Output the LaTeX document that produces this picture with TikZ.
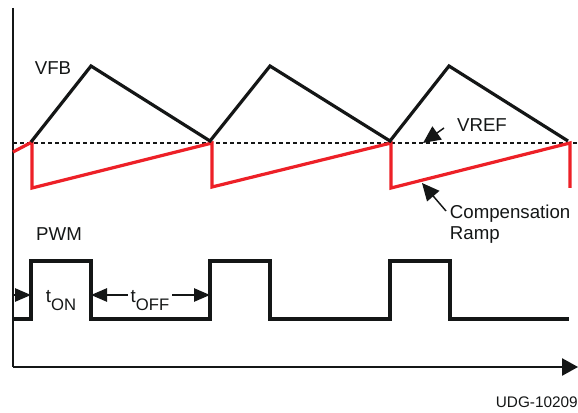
\documentclass[tikz,border=0pt]{standalone}
\usepackage{fontspec}
\setmainfont{Liberation Sans}
\usetikzlibrary{arrows.meta}

\definecolor{rampred}{RGB}{237,32,39}
\definecolor{inkblack}{RGB}{20,22,22}

\newcommand{\lowsub}[1]{\raisebox{-6pt}{\fontsize{12.5}{12.5}\selectfont #1}}

\tikzset{
  wave/.style={line width=2.4pt,inkblack,line join=miter},
  ramp/.style={line width=2.4pt,rampred},
  axis/.style={line width=1.1pt,inkblack},
  tip/.style={line width=1.1pt,inkblack,-{Triangle[length=12pt,width=10pt]}},
  callout/.style={line width=1.1pt,inkblack,-{Triangle[length=13pt,width=12pt]}},
  lbl/.style={font=\fontsize{14}{15.75}\selectfont,text=inkblack,inner sep=2pt},
}

\begin{document}
\begin{tikzpicture}[x=0.75pt,y=-0.75pt]
\useasboundingbox (0,0) rectangle (578,413);

% axes
\coordinate (org) at (13,367);
\draw[axis] (13,8) -- (org);
\draw[axis,-{Triangle[length=12pt,width=13pt]}] (org) -- (578,367);

% reference level
\draw[line width=1pt,inkblack,dash pattern=on 3pt off 2.25pt] (13,143) -- (578,143);

% compensation ramp
\draw[ramp] (13,152) -- (32,142) -- (32,188) -- (212,143) -- (212,187)
  -- (391,143) -- (391,188) -- (570,143) -- (570,188);

% feedback voltage
\draw[wave] (31,142) -- (91,66) -- (210,141) -- (270,66) -- (390,141)
  -- (449,66) -- (568,141);

% pwm
\coordinate (r1) at (31,319);
\coordinate (f1) at (91,319);
\coordinate (r2) at (210,319);
\draw[wave] (13,319) -- (r1) -- (31,261) -- (91,261) -- (f1) -- (r2)
  -- (210,261) -- (270,261) -- (270,319) -- (390,319) -- (390,261)
  -- (450,261) -- (450,319) -- (569,319);

\node[lbl] (vfb) at (53,68) {VFB};
\node[lbl] (pwm) at (59,234) {PWM};
\node[lbl] (vref) at (482,125) {VREF};
\node[lbl,align=left,anchor=north west] (comp) at (447,202) {Compensation\\Ramp};
\node[lbl] (ton) at (61,301) {t\lowsub{ON}};
\node[lbl] (toff) at (150,301) {t\lowsub{OFF}};
\node[font=\fontsize{11.5}{13}\selectfont,text=inkblack,anchor=east,inner sep=0pt] (udg) at (578,402) {UDG-10209};

% timing arrows
\coordinate (lvl) at (0,295);
\draw[tip] (org |- lvl) -- (r1 |- lvl);
\draw[tip] (toff.west |- lvl) -- (f1 |- lvl);
\draw[tip] (toff.east |- lvl) -- (r2 |- lvl);

% callouts
\coordinate (vrefpt) at (423,143);
\coordinate (ramppt) at (422,183);
\draw[callout] (444,128) -- (vrefpt);
\draw[callout] (446,211) -- (ramppt);
\end{tikzpicture}
\end{document}
